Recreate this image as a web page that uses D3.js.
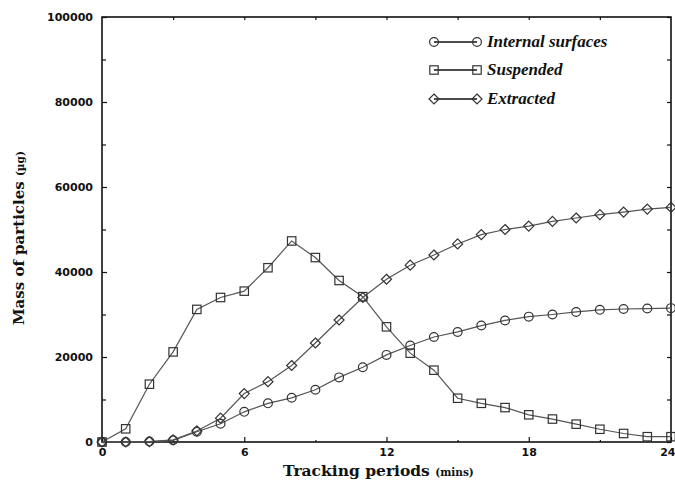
<!DOCTYPE html>
<html>
<head>
<meta charset="utf-8">
<script src="https://cdn.jsdelivr.net/npm/d3@7"></script>
<style>
  html, body { margin: 0; padding: 0; background: #fff; }
  svg { display: block; }
</style>
</head>
<body>
<svg id="chart" width="675" height="483"></svg>
<script>
// Tracking periods (minutes) and particle mass (µg) per compartment
const periods = d3.range(0, 25);
const internalSurfaces = [0, 0, 100, 400, 2400, 4300, 7100, 9100, 10400, 12300, 15200, 17600, 20500,
  22700, 24700, 25900, 27400, 28600, 29500, 30000, 30600, 31100, 31300, 31400, 31500];
const suspended = [0, 3100, 13600, 21200, 31200, 34000, 35500, 41000, 47300, 43400, 38000, 34200, 27100,
  20900, 16900, 10300, 9100, 8100, 6400, 5400, 4200, 3000, 2000, 1250, 1250];
const extracted = [0, 0, 100, 500, 2600, 5600, 11400, 14200, 18000, 23300, 28700, 34000, 38300,
  41600, 44000, 46600, 48800, 50000, 50800, 51900, 52700, 53500, 54100, 54800, 55200];

const xMajorTicks = [0, 6, 12, 18, 24];
const xMinorTicks = [3, 9, 15, 21];
const yMajorTicks = [0, 20000, 40000, 60000, 80000, 100000];
const yMinorTicks = [10000, 30000, 50000, 70000, 90000];

const seriesNames = ["Internal surfaces", "Suspended", "Extracted"];
const seriesShapes = ["circle", "square", "diamond"];

const svg = d3.select("#chart");
const margin = { left: 102, right: 4, top: 17, bottom: 41 };
const W = 675, H = 483;

const x = d3.scaleLinear().domain([0, 24]).range([margin.left, W - margin.right]);
const y = d3.scaleLinear().domain([0, 100000]).range([H - margin.bottom, margin.top]);

const ink = "#111";
const lineInk = "#555";
const tickFont = "'DejaVu Sans', sans-serif";
const serif = "'DejaVu Serif', serif";

svg.append("rect").attr("width", W).attr("height", H).attr("fill", "#fff");

// Axes with inward ticks
function styleAxis(g) {
  g.select(".domain").remove();
  g.selectAll(".tick line").attr("stroke", ink).attr("stroke-width", 1.2);
  g.selectAll(".tick text")
    .attr("fill", ink)
    .attr("font-family", tickFont)
    .attr("font-weight", "bold")
    .attr("font-size", 11);
}

const xAxisG = svg.append("g")
  .attr("transform", `translate(0,${y(0)})`)
  .call(d3.axisBottom(x).tickValues(xMajorTicks).tickSize(-5).tickPadding(6).tickFormat(d3.format("d")))
  .call(styleAxis);
// keep the last label inside the page edge
xAxisG.selectAll(".tick text").filter(d => d === 24)
  .attr("text-anchor", "end").attr("dx", 4);

svg.append("g")
  .attr("transform", `translate(0,${y(0)})`)
  .call(d3.axisBottom(x).tickValues(xMinorTicks).tickSize(-2).tickFormat(""))
  .call(styleAxis);
svg.append("g")
  .attr("transform", `translate(0,${y(100000)})`)
  .call(d3.axisTop(x).tickValues(xMinorTicks.concat(xMajorTicks.slice(1, 4))).tickSize(-3).tickFormat(""))
  .call(styleAxis);

svg.append("g")
  .attr("transform", `translate(${x(0)},0)`)
  .call(d3.axisLeft(y).tickValues(yMajorTicks).tickSize(-5).tickPadding(9).tickFormat(d3.format("d")))
  .call(styleAxis);
svg.append("g")
  .attr("transform", `translate(${x(0)},0)`)
  .call(d3.axisLeft(y).tickValues(yMinorTicks).tickSize(-4).tickFormat(""))
  .call(styleAxis);
svg.append("g")
  .attr("transform", `translate(${x(24)},0)`)
  .call(d3.axisRight(y).tickValues(yMajorTicks.concat(yMinorTicks)).tickSize(-4).tickFormat(""))
  .call(styleAxis);

// Plot frame
svg.append("rect")
  .attr("x", x(0)).attr("y", y(100000))
  .attr("width", x(24) - x(0)).attr("height", y(0) - y(100000))
  .attr("fill", "none").attr("stroke", ink).attr("stroke-width", 1.6);

// Marker shapes
function drawMarker(g, shape, cx, cy) {
  const common = s => s.attr("fill", "none").attr("stroke", "#333").attr("stroke-width", 1.2);
  if (shape === "circle") {
    g.append("circle").attr("cx", cx).attr("cy", cy).attr("r", 4.4).call(common);
  } else if (shape === "square") {
    g.append("rect").attr("x", cx - 4.2).attr("y", cy - 4.2).attr("width", 8.4).attr("height", 8.4).call(common);
  } else {
    const d = 5;
    g.append("path").attr("d", `M${cx},${cy - d}L${cx + d},${cy}L${cx},${cy + d}L${cx - d},${cy}Z`).call(common);
  }
}

const line = d3.line().x((d, i) => x(periods[i])).y(d => y(d));
const allSeries = [internalSurfaces, suspended, extracted];

allSeries.forEach((vals, k) => {
  const g = svg.append("g");
  g.append("path").attr("d", line(vals))
    .attr("fill", "none").attr("stroke", lineInk).attr("stroke-width", 1.2);
  vals.forEach((v, i) => drawMarker(g, seriesShapes[k], x(periods[i]), y(v)));
});

// Legend
const legendY = [42, 70, 99];
seriesNames.forEach((name, k) => {
  const g = svg.append("g");
  g.append("line").attr("x1", 434).attr("x2", 477).attr("y1", legendY[k]).attr("y2", legendY[k])
    .attr("stroke", ink).attr("stroke-width", 1.3);
  drawMarker(g, seriesShapes[k], 434, legendY[k]);
  drawMarker(g, seriesShapes[k], 477, legendY[k]);
  g.append("text").attr("x", 487).attr("y", legendY[k] + 5)
    .attr("font-family", "'Liberation Serif', serif")
    .attr("font-weight", "bold").attr("font-style", "italic")
    .attr("font-size", 17).attr("fill", ink)
    .text(name);
});

// Axis titles
const xt = svg.append("text").attr("x", 283).attr("y", 476)
  .attr("font-family", serif).attr("font-weight", "bold").attr("fill", ink);
xt.append("tspan").attr("font-size", 15.5).text("Tracking periods ");
xt.append("tspan").attr("font-size", 10.5).text("(mins)");

const yt = svg.append("text").attr("transform", "translate(24,325) rotate(-90)")
  .attr("font-family", serif).attr("font-weight", "bold").attr("fill", ink);
yt.append("tspan").attr("font-size", 15).text("Mass of particles ");
yt.append("tspan").attr("font-size", 10.5).text("(µg)");
</script>
</body>
</html>
